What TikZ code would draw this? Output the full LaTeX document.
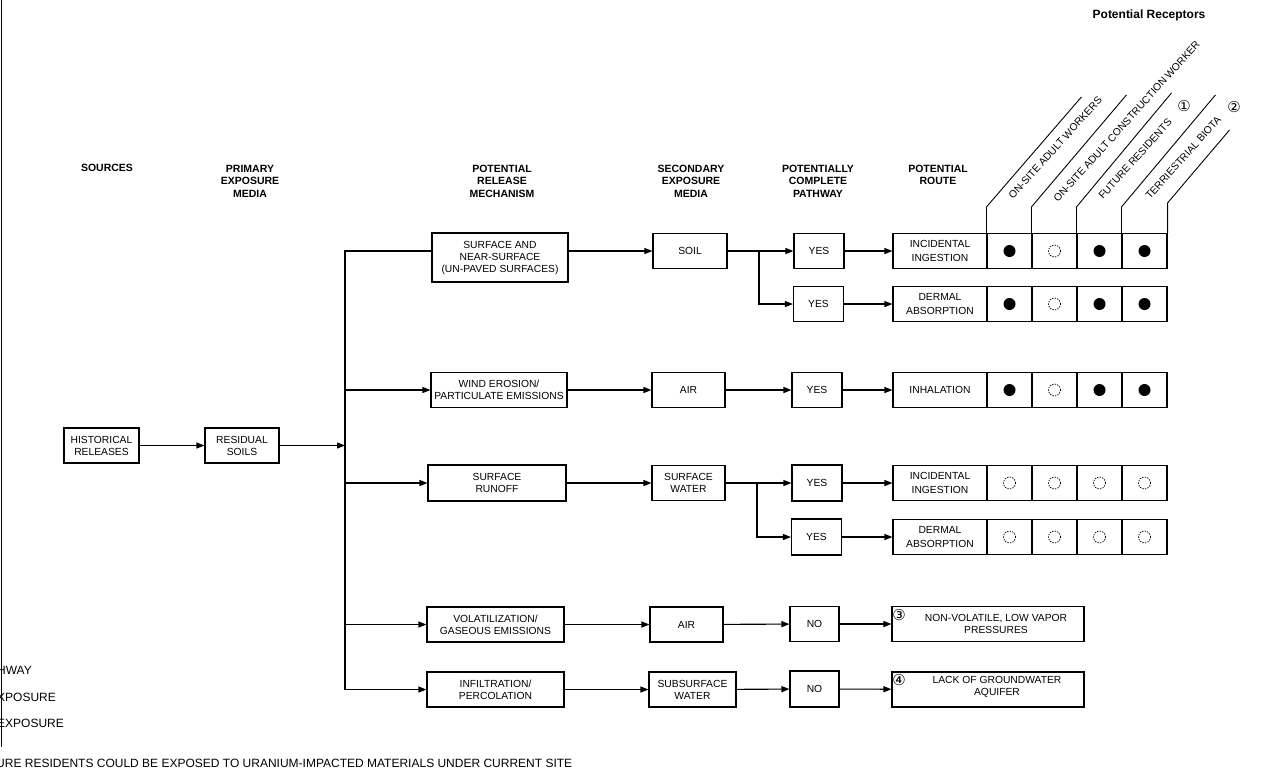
\documentclass[tikz,border=0pt]{standalone}
\usepackage{fontspec}
\setmainfont{Liberation Sans}
\newfontfamily\djv{DejaVu Sans}
\usetikzlibrary{arrows.meta}
\begin{document}
\begin{tikzpicture}[x=1pt,y=-1pt,
  every node/.style={font=\fontsize{10.3}{12}\selectfont, inner sep=0pt, align=center},
  box/.style={draw, line width=1.1pt, fill=white},
  route/.style={box, minimum width=94pt, minimum height=35pt, font=\fontsize{10.3}{14.5}\selectfont},
  cellf/.style={box, minimum width=45pt, minimum height=35pt,
    path picture={\fill[black] (path picture bounding box.center) circle (6pt);}},
  cello/.style={box, minimum width=45pt, minimum height=35pt,
    path picture={\draw[black, line width=0.8pt, dash pattern=on 1.3pt off 1.3pt] (path picture bounding box.center) circle (6pt);}},
  hdr/.style={font=\fontsize{10.5}{12.3}\selectfont\bfseries, anchor=north},
  arr/.style={line width=1.1pt, -{Triangle[length=8pt,width=6pt]}},
  ln/.style={line width=1.1pt},
  thin/.style={line width=0.9pt},
  rec/.style={font=\fontsize{10.3}{12}\selectfont, rotate=48, anchor=base west},
  circ/.style={font=\djv\fontsize{15}{16}\selectfont},
  note/.style={font=\fontsize{12}{14}\selectfont, anchor=base west},
]
\useasboundingbox (0,0) rectangle (1288,769);

% left border
\coordinate (lt) at (1,0);
\coordinate (lb) at (1,747);
\draw[line width=1pt] (lt) -- (lb);

% headers
\node[hdr] (hsrc) at (107,164) {SOURCES};
\node[hdr] (hpri) at (250,165) {PRIMARY\\EXPOSURE\\MEDIA};
\node[hdr] (hrel) at (502,165) {POTENTIAL\\RELEASE\\MECHANISM};
\node[hdr] (hsec) at (691,165) {SECONDARY\\EXPOSURE\\MEDIA};
\node[hdr] (hpcp) at (818,165) {POTENTIALLY\\COMPLETE\\PATHWAY};
\node[hdr] (hrte) at (938,165) {POTENTIAL\\ROUTE};
\node[font=\fontsize{12}{14}\selectfont\bfseries] (hrec) at (1149,15) {Potential Receptors};

% sources / primary media
\node[box, minimum width=75pt, minimum height=35pt] (hist) at (101.5,445.5) {HISTORICAL\\RELEASES};
\node[box, minimum width=74pt, minimum height=35pt] (resid) at (242,445.5) {RESIDUAL\\SOILS};

% release mechanisms
\node[box, minimum width=136pt, minimum height=49pt] (surf) at (500,257.5) {SURFACE AND\\NEAR-SURFACE\\(UN-PAVED SURFACES)};
\node[box, minimum width=136pt, minimum height=35pt] (wind) at (499,390) {WIND EROSION/\\PARTICULATE EMISSIONS};
\node[box, minimum width=138pt, minimum height=36pt] (runoff) at (497,483) {SURFACE\\RUNOFF};
\node[box, minimum width=137pt, minimum height=35pt] (volat) at (495.5,624.5) {VOLATILIZATION/\\GASEOUS EMISSIONS};
\node[box, minimum width=137pt, minimum height=35pt] (infil) at (495.5,689.5) {INFILTRATION/\\PERCOLATION};

% secondary media
\node[box, minimum width=74pt, minimum height=35pt] (soil) at (690,251) {SOIL};
\node[box, minimum width=73pt, minimum height=35pt] (air) at (688.5,390) {AIR};
\node[box, minimum width=73pt, minimum height=35pt] (sw) at (688.5,483) {SURFACE\\WATER};
\node[box, minimum width=73pt, minimum height=35pt] (air2) at (686.5,624.5) {AIR};
\node[box, minimum width=87pt, minimum height=35pt] (subw) at (692.5,689.5) {SUBSURFACE\\WATER};

% pathway
\node[box, minimum width=50pt, minimum height=35pt] (yes1) at (819,251) {YES};
\node[box, minimum width=50pt, minimum height=35pt] (yes2) at (818.5,304) {YES};
\node[box, minimum width=50pt, minimum height=35pt] (yes3) at (817,390) {YES};
\node[box, minimum width=50pt, minimum height=36pt] (yes4) at (817,483) {YES};
\node[box, minimum width=50pt, minimum height=36pt] (yes5) at (816.5,537) {YES};
\node[box, minimum width=49pt, minimum height=35pt] (no1) at (814.5,624) {NO};
\node[box, minimum width=49pt, minimum height=36pt] (no2) at (814.5,689) {NO};

% routes and receptor cells
\node[route] (r1) at (940,251) {INCIDENTAL\\INGESTION};
\node[cellf] (r1a) at (1009.5,251) {};
\node[cello] (r1b) at (1054.5,251) {};
\node[cellf] (r1c) at (1099.5,251) {};
\node[cellf] (r1d) at (1144.5,251) {};

\node[route] (r2) at (940,304) {DERMAL\\ABSORPTION};
\node[cellf] (r2a) at (1009.5,304) {};
\node[cello] (r2b) at (1054.5,304) {};
\node[cellf] (r2c) at (1099.5,304) {};
\node[cellf] (r2d) at (1144.5,304) {};

\node[route] (r3) at (940,390) {INHALATION};
\node[cellf] (r3a) at (1009.5,390) {};
\node[cello] (r3b) at (1054.5,390) {};
\node[cellf] (r3c) at (1099.5,390) {};
\node[cellf] (r3d) at (1144.5,390) {};

\node[route] (r4) at (940,483) {INCIDENTAL\\INGESTION};
\node[cello] (r4a) at (1009.5,483) {};
\node[cello] (r4b) at (1054.5,483) {};
\node[cello] (r4c) at (1099.5,483) {};
\node[cello] (r4d) at (1144.5,483) {};

\node[route] (r5) at (940,537) {DERMAL\\ABSORPTION};
\node[cello] (r5a) at (1009.5,537) {};
\node[cello] (r5b) at (1054.5,537) {};
\node[cello] (r5c) at (1099.5,537) {};
\node[cello] (r5d) at (1144.5,537) {};

% incomplete pathway boxes
\node[box, minimum width=192pt, minimum height=35pt] (nonvol) at (988,624) {};
\node (nvt) at (996,624) {NON-VOLATILE, LOW VAPOR\\PRESSURES};
\node[circ] (n3) at (899,615) {③};
\node[box, minimum width=192pt, minimum height=35pt] (lack) at (988,689.5) {};
\node (lkt) at (997,687) {LACK OF GROUNDWATER\\AQUIFER};
\node[circ] (n4) at (899,680) {④};

% receptor header lines
\draw[thin] (r1a.north west) -- ++(0,-26) -- ++(95,-110);
\draw[thin] (r1b.north west) -- ++(0,-26) -- ++(95,-112);
\draw[thin] (r1c.north west) -- ++(0,-26) -- ++(95,-114);
\draw[thin] (r1d.north west) -- ++(0,-26) -- ++(94,-112);
\draw[thin] (r1d.north east) -- ++(0,-30) -- ++(62,-73);

\node[rec] (rc1) at (1013,200) {ON-SITE ADULT WORKERS};
\node[rec] (rc2) at (1058,203) {ON-SITE ADULT CONSTRUCTION WORKER};
\node[rec] (rc3) at (1103,200) {FUTURE RESIDENTS};
\node[rec] (rc4) at (1150,200) {TERRIESTRIAL BIOTA};
\node[circ] (n1) at (1184,106) {①};
\node[circ] (n2) at (1234,107) {②};

% connectors
\coordinate (bustop) at (345,251);
\coordinate (busbot) at (345,689.5);
\draw[arr] (hist) -- (resid);
\draw[arr] (resid.east) -- (resid.east -| bustop);
\draw[ln] (busbot) -- (bustop) -- (surf.west |- bustop);
\draw[arr] (wind.west -| bustop) -- (wind.west);
\draw[arr] (runoff.west -| bustop) -- (runoff.west);
\draw[arr] (volat.west -| bustop) -- (volat.west);
\draw[arr] (busbot) -- (infil.west);

\draw[arr] (surf.east |- soil) -- (soil.west);
\draw[arr] (wind) -- (air);
\draw[arr] (runoff) -- (sw);
\draw[arr] (volat) -- (air2);
\draw[arr] (infil) -- (subw);

\coordinate (ja) at (759,251);
\coordinate (jd) at (757,483);
\draw[arr] (soil) -- (yes1);
\draw[arr] (ja) |- (yes2.west);
\draw[arr] (air) -- (yes3);
\draw[arr] (sw) -- (yes4);
\draw[arr] (jd) |- (yes5.west);
\draw[arr] (air2) -- (no1);
\draw[arr] (subw) -- (no2);

\draw[arr] (yes1) -- (r1);
\draw[arr] (yes2) -- (r2);
\draw[arr] (yes3) -- (r3);
\draw[arr] (yes4) -- (r4);
\draw[arr] (yes5) -- (r5);
\draw[arr] (no1) -- (nonvol);
\draw[arr] (no2) -- (lack);

% clipped notes at lower left
\node[note] (t1) at (-3,674) {HWAY};
\node[note] (t2) at (-3,701) {XPOSURE};
\node[note] (t3) at (-3,727) {EXPOSURE};
\node[note] (t4) at (-4,767) {URE RESIDENTS COULD BE EXPOSED TO URANIUM-IMPACTED MATERIALS UNDER CURRENT SITE};
\end{tikzpicture}
\end{document}
